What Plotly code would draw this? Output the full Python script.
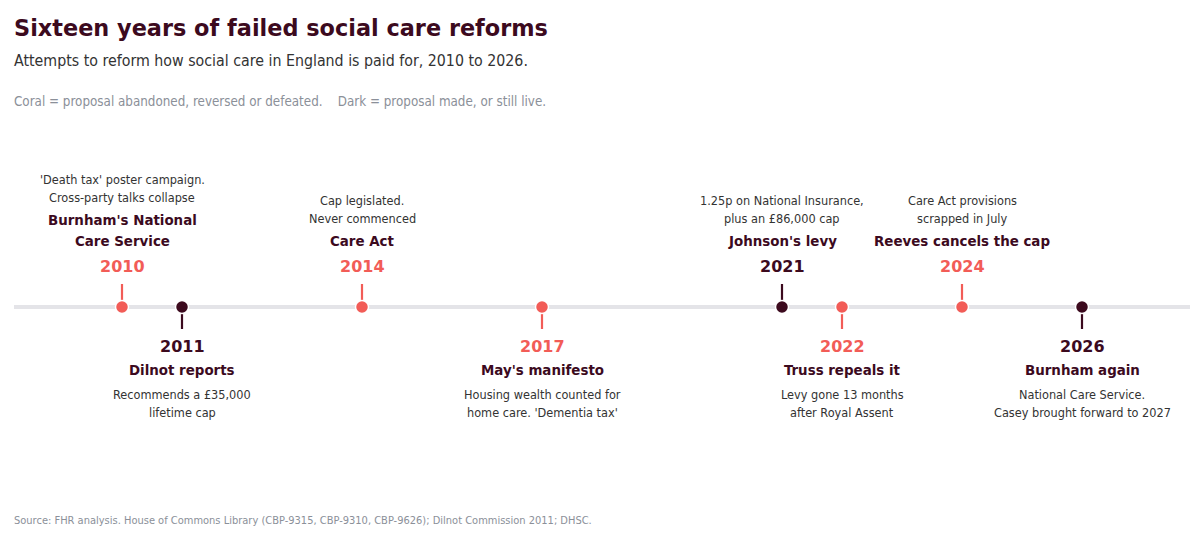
import plotly.graph_objects as go

# ---- data ----
years = [2010, 2011, 2014, 2017, 2021, 2022, 2024, 2026]
titles = [
    "Burnham's National\nCare Service",
    "Dilnot reports",
    "Care Act",
    "May's manifesto",
    "Johnson's levy",
    "Truss repeals it",
    "Reeves cancels the cap",
    "Burnham again",
]
descs = [
    "'Death tax' poster campaign.\nCross-party talks collapse",
    "Recommends a £35,000\nlifetime cap",
    "Cap legislated.\nNever commenced",
    "Housing wealth counted for\nhome care. 'Dementia tax'",
    "1.25p on National Insurance,\nplus an £86,000 cap",
    "Levy gone 13 months\nafter Royal Assent",
    "Care Act provisions\nscrapped in July",
    "National Care Service.\nCasey brought forward to 2027",
]
status = ["abandoned", "made", "abandoned", "abandoned", "made", "abandoned", "abandoned", "made"]
side = ["above", "below", "above", "below", "above", "below", "above", "below"]

CORAL = "#f25c57"
DARK = "#3c0a1e"
TEXT = "#333333"
GREY = "#8b9099"
FONT = "DejaVu Sans"
COND = "DejaVu Sans Condensed, DejaVu Sans"

# page has an 8px body margin; figure sized to fit inside it
PAGE_OFF = 8
W, H = 1204 - 2 * PAGE_OFF, 538 - 2 * PAGE_OFF
LINE_PX = 307  # screen pixel row of timeline


def yp(px):
    """screen pixel row from top -> y-axis units (pixel based, up positive)"""
    return LINE_PX - px


fig = go.Figure()

# timeline line
fig.add_shape(type="line", xref="paper", yref="y", x0=0, x1=1, y0=0, y1=0,
              line=dict(color="#e4e4e8", width=4), layer="below")

annotations = []
for yr, t, d, st, sd in zip(years, titles, descs, status, side):
    col = CORAL if st == "abandoned" else DARK
    if sd == "above":
        sy = [yp(284), yp(300)]
    else:
        sy = [yp(314), yp(329)]
    fig.add_trace(go.Scatter(x=[yr, yr], y=sy, mode="lines",
                             line=dict(color=col, width=2.2),
                             hoverinfo="skip", showlegend=False))
    tlines = t.split("\n")
    dlines = d.split("\n")
    if sd == "above":
        annotations.append(dict(x=yr, y=yp(266), text=f"<b>{yr}</b>",
                                font=dict(size=16, color=col)))
        ty = 241
        for ln in reversed(tlines):
            annotations.append(dict(x=yr, y=yp(ty), text=f"<b>{ln}</b>",
                                    font=dict(size=14.9, color=DARK, family=COND)))
            ty -= 21
        dy = ty + 21 - 23
        for ln in reversed(dlines):
            annotations.append(dict(x=yr, y=yp(dy), text=ln,
                                    font=dict(size=12.6, color=TEXT, family=COND)))
            dy -= 18
    else:
        annotations.append(dict(x=yr, y=yp(346), text=f"<b>{yr}</b>",
                                font=dict(size=16, color=col)))
        ty = 370
        for ln in tlines:
            annotations.append(dict(x=yr, y=yp(ty), text=f"<b>{ln}</b>",
                                    font=dict(size=14.9, color=DARK, family=COND)))
            ty += 21
        dy = ty - 21 + 24
        for ln in dlines:
            annotations.append(dict(x=yr, y=yp(dy), text=ln,
                                    font=dict(size=12.6, color=TEXT, family=COND)))
            dy += 18

for a in annotations:
    a.update(xref="x", yref="y", showarrow=False, xanchor="center", yanchor="middle")

# dots
fig.add_trace(go.Scatter(
    x=years, y=[0] * len(years), mode="markers",
    marker=dict(size=13, color=[CORAL if s == "abandoned" else DARK for s in status],
                line=dict(color="white", width=1.5)),
    hoverinfo="skip", showlegend=False))

# header / footer text
header = [
    ("<b>Sixteen years of failed social care reforms</b>", 28, 22.4, DARK, FONT),
    ("Attempts to reform how social care in England is paid for, 2010 to 2026.", 60, 15.8, TEXT, COND),
    ("Coral = proposal abandoned, reversed or defeated.    Dark = proposal made, or still live.", 101, 13.3, GREY, COND),
    ("Source: FHR analysis. House of Commons Library (CBP-9315, CBP-9310, CBP-9626); Dilnot Commission 2011; DHSC.", 520, 11, GREY, COND),
]
for txt, py, sz, c, fam in header:
    annotations.append(dict(xref="paper", yref="y", x=0, y=yp(py), text=txt,
                            showarrow=False, xanchor="left", yanchor="middle",
                            xshift=-2, font=dict(size=sz, color=c, family=fam)))

fig.update_layout(
    width=W, height=H,
    margin=dict(l=14 - PAGE_OFF, r=14 - PAGE_OFF, t=0, b=0),
    paper_bgcolor="white", plot_bgcolor="white",
    font=dict(family=FONT),
    xaxis=dict(range=[2008.2, 2027.8], visible=False, fixedrange=True),
    yaxis=dict(range=[yp(538 - PAGE_OFF), yp(PAGE_OFF)], visible=False, fixedrange=True),
    annotations=annotations,
    showlegend=False,
)

fig.write_html("out.html")
